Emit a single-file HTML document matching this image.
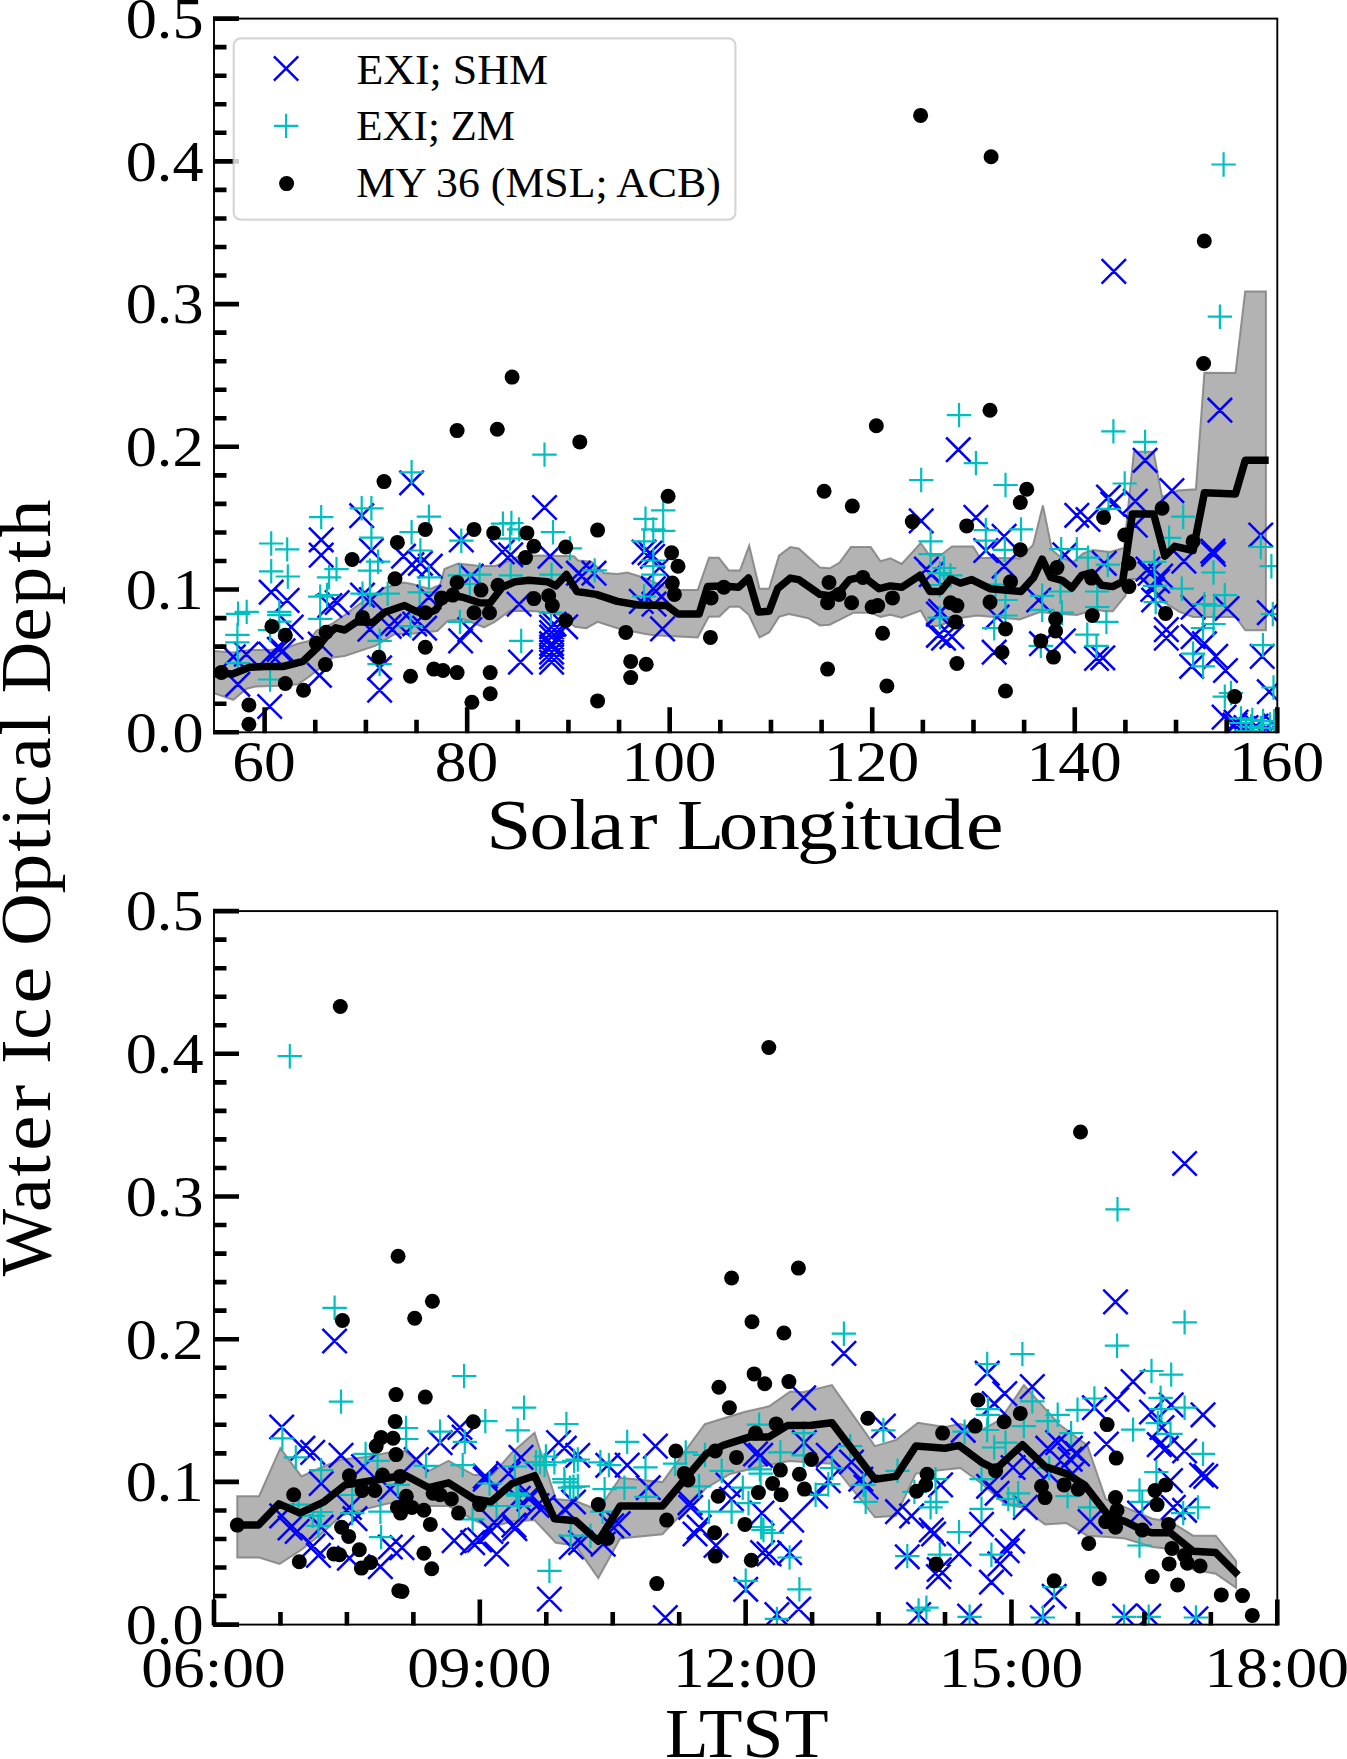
<!DOCTYPE html><html><head><meta charset="utf-8"><style>html,body{margin:0;padding:0;background:#fff}svg{display:block}text{font-family:"Liberation Serif",serif}</style></head><body>
<svg width="1347" height="1759" viewBox="0 0 1347 1759">
<rect width="1347" height="1759" fill="#fff"/>
<defs>
<clipPath id="clip_top"><rect x="214.0" y="18.6" width="1063.3" height="713.6999999999999"/></clipPath>
<clipPath id="clip_bot"><rect x="214.0" y="911.1" width="1063.3" height="713.4999999999999"/></clipPath>
</defs>
<g clip-path="url(#clip_top)"><polygon points="214.0,650.9 232.6,652.4 250.0,650.0 270.0,650.0 288.2,647.2 297.0,644.0 304.6,642.0 309.0,641.0 316.4,630.7 332.8,623.3 344.7,615.0 365.0,600.0 384.7,587.7 404.0,582.5 412.0,584.0 430.0,589.0 440.0,585.0 444.4,569.1 458.0,563.4 480.0,566.0 495.0,566.0 506.4,561.9 519.1,556.3 541.7,555.6 574.1,556.3 578.0,560.5 591.5,561.6 604.0,573.0 617.3,573.9 627.2,572.5 645.0,578.0 660.0,585.0 673.7,590.1 697.7,590.1 709.0,557.7 718.9,557.7 728.7,570.4 740.0,570.4 749.2,545.7 759.5,588.7 769.1,588.7 779.0,555.6 790.3,547.1 798.7,548.5 819.9,567.6 829.8,568.3 839.6,562.6 850.9,547.1 870.7,547.1 880.5,561.2 890.4,558.4 901.7,564.0 920.7,543.0 930.0,556.0 941.0,555.0 951.9,546.4 973.1,546.4 980.1,557.7 1000.0,558.0 1019.6,558.4 1033.0,545.0 1042.9,505.4 1052.0,550.0 1062.0,558.0 1073.2,561.9 1083.1,553.5 1093.0,550.0 1110.0,552.0 1124.0,548.0 1133.9,451.8 1153.6,451.8 1162.1,496.9 1177.6,490.6 1195.9,489.2 1204.4,372.8 1235.5,373.1 1245.2,291.4 1265.9,291.4 1265.9,630.3 1245.3,630.3 1235.4,616.9 1193.1,616.9 1180.0,612.0 1160.0,600.0 1145.1,578.9 1128.2,578.9 1125.4,595.8 1112.7,611.3 1104.3,611.3 1100.6,610.3 1087.3,612.0 1076.9,615.0 1060.0,614.0 1040.0,612.0 1019.6,619.5 977.3,615.5 960.0,618.0 940.0,625.4 929.9,626.8 920.7,610.6 901.7,617.6 890.4,614.8 880.5,616.9 870.7,612.7 853.7,612.7 829.8,624.7 819.9,625.4 808.6,618.3 788.9,614.1 779.0,616.9 769.1,632.5 759.5,637.4 748.8,614.8 739.4,606.8 729.4,606.8 719.4,616.4 708.7,616.8 697.7,637.4 654.0,635.3 645.5,633.9 617.3,628.2 597.6,621.9 586.3,628.2 575.0,626.8 560.0,615.0 536.0,611.3 510.0,610.7 494.3,622.1 484.0,627.3 473.5,623.0 463.2,619.0 447.6,621.0 437.3,631.0 411.5,633.7 395.0,633.9 375.8,645.6 344.7,656.0 332.8,657.4 320.0,668.0 309.0,676.8 297.9,684.3 280.8,685.8 255.6,686.5 246.7,688.7 233.3,699.8 214.0,693.2" fill="#808080" fill-opacity="0.6" stroke="#808080" stroke-opacity="0.85" stroke-width="2"/></g>
<g clip-path="url(#clip_top)">
<path d="M349.5 503.5L373.9 527.9M349.5 527.9L373.9 503.5M309.0 527.6L333.4 552.0M309.0 552.0L333.4 527.6M309.0 542.9L333.4 567.3M309.0 567.3L333.4 542.9M359.2 538.4L383.6 562.8M359.2 562.8L383.6 538.4M259.0 580.0L283.4 604.4M259.0 604.4L283.4 580.0M274.9 588.2L299.3 612.6M274.9 612.6L299.3 588.2M279.0 614.9L303.4 639.3M279.0 639.3L303.4 614.9M221.1 644.6L245.5 669.0M221.1 669.0L245.5 644.6M234.1 642.0L258.5 666.4M234.1 666.4L258.5 642.0M258.6 642.0L283.0 666.4M258.6 666.4L283.0 642.0M267.1 637.2L291.5 661.6M267.1 661.6L291.5 637.2M270.8 638.7L295.2 663.1M270.8 663.1L295.2 638.7M225.6 672.1L250.0 696.5M225.6 696.5L250.0 672.1M257.5 694.3L281.9 718.7M257.5 718.7L281.9 694.3M307.2 663.1L331.6 687.5M307.2 687.5L331.6 663.1M308.0 631.9L332.4 656.3M308.0 656.3L332.4 631.9M317.6 593.3L342.0 617.7M317.6 617.7L342.0 593.3M325.0 590.3L349.4 614.7M325.0 614.7L349.4 590.3M350.3 582.9L374.7 607.3M350.3 607.3L374.7 582.9M359.2 587.3L383.6 611.7M359.2 611.7L383.6 587.3M357.7 617.0L382.1 641.4M357.7 641.4L382.1 617.0M377.0 614.1L401.4 638.5M377.0 638.5L401.4 614.1M367.4 655.6L391.8 680.0M367.4 680.0L391.8 655.6M367.4 677.9L391.8 702.3M367.4 702.3L391.8 677.9M399.4 470.6L423.8 495.0M399.4 495.0L423.8 470.6M532.3 495.3L556.7 519.7M532.3 519.7L556.7 495.3M449.1 527.8L473.5 552.2M449.1 552.2L473.5 527.8M490.0 539.8L514.4 564.2M490.0 564.2L514.4 539.8M498.5 542.6L522.9 567.0M498.5 567.0L522.9 542.6M537.9 544.0L562.3 568.4M537.9 568.4L562.3 544.0M391.3 544.0L415.7 568.4M391.3 568.4L415.7 544.0M408.2 551.1L432.6 575.5M408.2 575.5L432.6 551.1M399.7 552.5L424.1 576.9M399.7 576.9L424.1 552.5M418.1 554.0L442.5 578.4M418.1 578.4L442.5 554.0M416.7 585.0L441.1 609.4M416.7 609.4L441.1 585.0M402.5 611.8L426.9 636.2M402.5 636.2L426.9 611.8M412.4 616.0L436.8 640.4M412.4 640.4L436.8 616.0M385.6 611.8L410.0 636.2M385.6 636.2L410.0 611.8M448.4 628.7L472.8 653.1M448.4 653.1L472.8 628.7M457.6 617.4L482.0 641.8M457.6 641.8L482.0 617.4M459.0 563.8L483.4 588.2M459.0 588.2L483.4 563.8M508.3 649.9L532.7 674.3M508.3 674.3L532.7 649.9M506.9 592.0L531.3 616.4M506.9 616.4L531.3 592.0M539.4 620.3L563.8 644.7M539.4 644.7L563.8 620.3M539.4 631.5L563.8 655.9M539.4 655.9L563.8 631.5M539.4 640.0L563.8 664.4M539.4 664.4L563.8 640.0M539.4 649.9L563.8 674.3M539.4 674.3L563.8 649.9M553.5 614.6L577.9 639.0M553.5 639.0L577.9 614.6M566.2 561.0L590.6 585.4M566.2 585.4L590.6 561.0M631.9 539.8L656.3 564.2M631.9 564.2L656.3 539.8M637.8 540.8L662.2 565.2M637.8 565.2L662.2 540.8M581.8 561.0L606.2 585.4M581.8 585.4L606.2 561.0M569.8 563.8L594.2 588.2M569.8 588.2L594.2 563.8M640.4 544.1L664.8 568.5M640.4 568.5L664.8 544.1M647.4 555.4L671.8 579.8M647.4 579.8L671.8 555.4M641.1 576.5L665.5 600.9M641.1 600.9L665.5 576.5M643.8 578.8L668.2 603.2M643.8 603.2L668.2 578.8M629.1 589.2L653.5 613.6M629.1 613.6L653.5 589.2M641.8 592.0L666.2 616.4M641.8 616.4L666.2 592.0M650.3 616.7L674.7 641.1M650.3 641.1L674.7 616.7M909.0 508.7L933.4 533.1M909.0 533.1L933.4 508.7M914.2 556.8L938.6 581.2M914.2 581.2L938.6 556.8M919.1 562.4L943.5 586.8M919.1 586.8L943.5 562.4M926.2 601.9L950.6 626.3M926.2 626.3L950.6 601.9M926.2 623.1L950.6 647.5M926.2 647.5L950.6 623.1M946.1 437.5L970.5 461.9M946.1 461.9L970.5 437.5M963.7 505.2L988.1 529.6M963.7 529.6L988.1 505.2M991.9 524.2L1016.3 548.6M991.9 548.6L1016.3 524.2M973.6 538.3L998.0 562.7M973.6 562.7L998.0 538.3M1064.6 503.1L1089.0 527.5M1064.6 527.5L1089.0 503.1M1075.8 507.3L1100.2 531.7M1075.8 531.7L1100.2 507.3M1096.3 484.8L1120.7 509.2M1096.3 509.2L1120.7 484.8M1100.5 491.8L1124.9 516.2M1100.5 516.2L1124.9 491.8M1052.6 542.6L1077.0 567.0M1052.6 567.0L1077.0 542.6M991.9 554.0L1016.3 578.4M991.9 578.4L1016.3 554.0M928.4 599.1L952.8 623.5M928.4 623.5L952.8 599.1M931.3 625.9L955.7 650.3M931.3 650.3L955.7 625.9M939.7 624.5L964.1 648.9M939.7 648.9L964.1 624.5M982.0 640.0L1006.4 664.4M982.0 664.4L1006.4 640.0M984.9 604.8L1009.3 629.2M984.9 629.2L1009.3 604.8M1026.5 587.8L1050.9 612.2M1026.5 612.2L1050.9 587.8M1029.3 631.5L1053.7 655.9M1029.3 655.9L1053.7 631.5M1051.2 628.7L1075.6 653.1M1051.2 653.1L1075.6 628.7M1084.3 646.3L1108.7 670.7M1084.3 670.7L1108.7 646.3M1092.1 551.1L1116.5 575.5M1092.1 575.5L1116.5 551.1M1207.7 398.0L1232.1 422.4M1207.7 422.4L1232.1 398.0M1132.9 448.1L1157.3 472.5M1132.9 472.5L1157.3 448.1M1159.7 478.4L1184.1 502.8M1159.7 502.8L1184.1 478.4M1123.1 489.0L1147.5 513.4M1123.1 513.4L1147.5 489.0M1248.6 522.8L1273.0 547.2M1248.6 547.2L1273.0 522.8M1200.6 539.0L1225.0 563.4M1200.6 563.4L1225.0 539.0M1123.1 513.0L1147.5 537.4M1123.1 537.4L1147.5 513.0M1201.3 542.0L1225.7 566.4M1201.3 566.4L1225.7 542.0M1171.7 549.0L1196.1 573.4M1171.7 573.4L1196.1 549.0M1135.8 556.8L1160.2 581.2M1135.8 581.2L1160.2 556.8M1148.4 563.8L1172.8 588.2M1148.4 588.2L1172.8 563.8M1141.4 587.8L1165.8 612.2M1141.4 612.2L1165.8 587.8M1180.9 594.9L1205.3 619.3M1180.9 619.3L1205.3 594.9M1154.1 617.4L1178.5 641.8M1154.1 641.8L1178.5 617.4M1154.1 625.9L1178.5 650.3M1154.1 650.3L1178.5 625.9M1180.9 624.5L1205.3 648.9M1180.9 648.9L1205.3 624.5M1192.2 631.5L1216.6 655.9M1192.2 655.9L1216.6 631.5M1203.5 644.2L1227.9 668.6M1203.5 668.6L1227.9 644.2M1179.5 654.1L1203.9 678.5M1179.5 678.5L1203.9 654.1M1213.3 658.3L1237.7 682.7M1213.3 682.7L1237.7 658.3M1250.0 644.2L1274.4 668.6M1250.0 668.6L1274.4 644.2M1257.1 600.5L1281.5 624.9M1257.1 624.9L1281.5 600.5M1257.1 679.5L1281.5 703.9M1257.1 703.9L1281.5 679.5M1211.9 704.9L1236.3 729.3M1211.9 729.3L1236.3 704.9M1223.8 709.8L1248.2 734.2M1223.8 734.2L1248.2 709.8M1090.6 645.6L1115.0 670.0M1090.6 670.0L1115.0 645.6M1214.8 596.3L1239.2 620.7M1214.8 620.7L1239.2 596.3M1101.6 259.2L1126.0 283.6M1101.6 283.6L1126.0 259.2M539.4 614.8L563.8 639.2M539.4 639.2L563.8 614.8M539.4 624.8L563.8 649.2M539.4 649.2L563.8 624.8M539.4 634.8L563.8 659.2M539.4 659.2L563.8 634.8M539.4 644.8L563.8 669.2M539.4 669.2L563.8 644.8M541.8 611.8L566.2 636.2M541.8 636.2L566.2 611.8M1222.8 712.8L1247.2 737.2M1222.8 737.2L1247.2 712.8M1233.8 715.3L1258.2 739.7M1233.8 739.7L1258.2 715.3M1243.8 713.8L1268.2 738.2M1243.8 738.2L1268.2 713.8M1253.8 716.3L1278.2 740.7M1253.8 740.7L1278.2 716.3M1262.8 713.3L1287.2 737.7M1262.8 737.7L1287.2 713.3M1137.8 561.3L1162.2 585.7M1137.8 585.7L1162.2 561.3M1145.4 568.8L1169.8 593.2M1145.4 593.2L1169.8 568.8M1140.6 577.2L1165.0 601.6M1140.6 601.6L1165.0 577.2" stroke="#0000ff" stroke-width="2.5" fill="none"/>
<path d="M259.0 543.5H283.4M271.2 531.3V555.7M275.0 549.4H299.4M287.2 537.2V561.6M309.0 517.1H333.4M321.2 504.9V529.3M349.5 508.3H373.9M361.7 496.1V520.5M359.2 508.3H383.6M371.4 496.1V520.5M359.2 537.7H383.6M371.4 525.5V549.9M259.0 571.3H283.4M271.2 559.1V583.5M275.6 576.5H300.0M287.8 564.3V588.7M324.3 569.1H348.7M336.5 556.9V581.3M316.9 577.3H341.3M329.1 565.1V589.5M357.7 570.6H382.1M369.9 558.4V582.8M365.9 561.7H390.3M378.1 549.5V573.9M225.9 613.8H250.3M238.1 601.6V626.0M234.5 611.9H258.9M246.7 599.7V624.1M225.2 634.9H249.6M237.4 622.7V647.1M225.2 642.3H249.6M237.4 630.1V654.5M225.6 663.1H250.0M237.8 650.9V675.3M267.1 611.9H291.5M279.3 599.7V624.1M267.1 615.2H291.5M279.3 603.0V627.4M267.1 621.6H291.5M279.3 609.4V633.8M257.9 630.1H282.3M270.1 617.9V642.3M257.9 679.5H282.3M270.1 667.3V691.7M308.0 596.6H332.4M320.2 584.4V608.8M314.8 595.0H339.2M327.0 582.8V607.2M308.0 618.8H332.4M320.2 606.6V631.0M350.3 593.6H374.7M362.5 581.4V605.8M357.7 594.3H382.1M369.9 582.1V606.5M375.5 593.6H399.9M387.7 581.4V605.8M367.4 640.8H391.8M379.6 628.6V653.0M367.4 664.1H391.8M379.6 651.9V676.3M532.3 454.6H556.7M544.5 442.4V466.8M399.4 472.3H423.8M411.6 460.1V484.5M416.7 516.7H441.1M428.9 504.5V528.9M399.4 532.2H423.8M411.6 520.0V544.4M408.2 550.5H432.6M420.4 538.3V562.7M449.1 540.7H473.5M461.3 528.5V552.9M490.7 523.7H515.1M502.9 511.5V535.9M499.2 523.0H523.6M511.4 510.8V535.2M506.9 529.4H531.3M519.1 517.2V541.6M497.8 538.6H522.2M510.0 526.4V550.8M540.8 532.2H565.2M553.0 520.0V544.4M557.7 548.4H582.1M569.9 536.2V560.6M416.7 577.4H441.1M428.9 565.2V589.6M407.5 592.3H431.9M419.7 580.1V604.5M398.3 626.1H422.7M410.5 613.9V638.3M447.7 621.9H472.1M459.9 609.7V634.1M447.7 575.3H472.1M459.9 563.1V587.5M467.4 574.6H491.8M479.6 562.4V586.8M457.6 584.0H482.0M469.8 571.8V596.2M498.5 575.3H522.9M510.7 563.1V587.5M509.0 640.9H533.4M521.2 628.7V653.1M539.4 574.6H563.8M551.6 562.4V586.8M538.7 612.7H563.1M550.9 600.5V624.9M633.3 518.8H657.7M645.5 506.6V531.0M651.0 510.3H675.4M663.2 498.1V522.5M641.1 529.4H665.5M653.3 517.2V541.6M651.0 530.8H675.4M663.2 518.6V543.0M631.9 541.4H656.3M644.1 529.2V553.6M582.5 570.4H606.9M594.7 558.2V582.6M641.1 560.5H665.5M653.3 548.3V572.7M641.1 566.2H665.5M653.3 554.0V578.4M641.1 574.6H665.5M653.3 562.4V586.8M631.9 596.5H656.3M644.1 584.3V608.7M909.0 480.0H933.4M921.2 467.8V492.2M918.4 541.4H942.8M930.6 529.2V553.6M918.4 554.1H942.8M930.6 541.9V566.3M927.6 573.2H952.0M939.8 561.0V585.4M927.6 585.0H952.0M939.8 572.8V597.2M927.6 617.6H952.0M939.8 605.4V629.8M946.8 415.1H971.2M959.0 402.9V427.3M963.7 463.1H988.1M975.9 450.9V475.3M993.3 485.0H1017.7M1005.5 472.8V497.2M1101.2 431.4H1125.6M1113.4 419.2V443.6M973.6 530.1H998.0M985.8 517.9V542.3M973.6 540.7H998.0M985.8 528.5V552.9M1008.8 529.4H1033.2M1021.0 517.2V541.6M992.6 549.8H1017.0M1004.8 537.6V562.0M1049.0 549.1H1073.4M1061.2 536.9V561.3M1064.6 549.1H1089.0M1076.8 536.9V561.3M1096.3 508.9H1120.7M1108.5 496.7V521.1M938.3 575.3H962.7M950.5 563.1V587.5M931.8 568.0H956.2M944.0 555.8V580.2M983.4 584.5H1007.8M995.6 572.3V596.7M993.3 600.0H1017.7M1005.5 587.8V612.2M993.3 615.5H1017.7M1005.5 603.3V627.7M982.0 628.2H1006.4M994.2 616.0V640.4M1030.0 595.8H1054.4M1042.2 583.6V608.0M1030.0 609.9H1054.4M1042.2 597.7V622.1M1075.8 557.7H1100.2M1088.0 545.5V569.9M1048.3 591.5H1072.7M1060.5 579.3V603.7M1049.8 612.7H1074.2M1062.0 600.5V624.9M1028.6 645.8H1053.0M1040.8 633.6V658.0M1085.0 591.5H1109.4M1097.2 579.3V603.7M1085.0 607.0H1109.4M1097.2 594.8V619.2M1094.2 621.9H1118.6M1106.4 609.7V634.1M1075.1 634.6H1099.5M1087.3 622.4V646.8M1084.3 645.8H1108.7M1096.5 633.6V658.0M1095.6 564.7H1120.0M1107.8 552.5V576.9M1132.9 441.9H1157.3M1145.1 429.7V454.1M1112.5 483.5H1136.9M1124.7 471.3V495.7M1171.0 516.7H1195.4M1183.2 504.5V528.9M1156.9 537.8H1181.3M1169.1 525.6V550.0M1248.6 547.0H1273.0M1260.8 534.8V559.2M1142.1 561.9H1166.5M1154.3 549.7V574.1M1142.8 585.9H1167.2M1155.0 573.7V598.1M1143.5 602.1H1167.9M1155.7 589.9V614.3M1169.6 588.7H1194.0M1181.8 576.5V600.9M1201.3 572.5H1225.7M1213.5 560.3V584.7M1212.6 595.1H1237.0M1224.8 582.9V607.3M1192.2 604.2H1216.6M1204.4 592.0V616.4M1202.0 605.6H1226.4M1214.2 593.4V617.8M1190.8 628.2H1215.2M1203.0 616.0V640.4M1201.3 624.0H1225.7M1213.5 611.8V636.2M1180.9 653.6H1205.3M1193.1 641.4V665.8M1190.8 666.3H1215.2M1203.0 654.1V678.5M1212.6 696.6H1237.0M1224.8 684.4V708.8M1218.8 693.0H1243.2M1231.0 680.8V705.2M1259.2 566.2H1283.6M1271.4 554.0V578.4M1260.6 614.1H1285.0M1272.8 601.9V626.3M1250.7 645.1H1275.1M1262.9 632.9V657.3M1261.3 687.5H1285.7M1273.5 675.3V699.7M1228.8 718.5H1253.2M1241.0 706.3V730.7M1240.1 719.9H1264.5M1252.3 707.7V732.1M1250.8 721.0H1275.2M1263.0 708.8V733.2M1262.0 721.3H1286.4M1274.2 709.1V733.5M1211.4 164.5H1235.8M1223.6 152.3V176.7M1207.7 316.7H1232.1M1219.9 304.5V328.9M1228.8 723.0H1253.2M1241.0 710.8V735.2M1238.8 726.5H1263.2M1251.0 714.3V738.7M1248.8 728.0H1273.2M1261.0 715.8V740.2M1257.8 724.5H1282.2M1270.0 712.3V736.7M1233.8 731.0H1258.2M1246.0 718.8V743.2" stroke="#00bfbf" stroke-width="2.2" fill="none"/>
<circle cx="384.0" cy="481.6" r="7.5" fill="#000"/>
<circle cx="352.1" cy="559.5" r="7.5" fill="#000"/>
<circle cx="397.4" cy="542.4" r="7.5" fill="#000"/>
<circle cx="221.4" cy="672.4" r="7.5" fill="#000"/>
<circle cx="248.9" cy="705.0" r="7.5" fill="#000"/>
<circle cx="248.9" cy="724.3" r="7.5" fill="#000"/>
<circle cx="271.9" cy="626.4" r="7.5" fill="#000"/>
<circle cx="285.3" cy="635.3" r="7.5" fill="#000"/>
<circle cx="285.3" cy="683.5" r="7.5" fill="#000"/>
<circle cx="303.5" cy="690.2" r="7.5" fill="#000"/>
<circle cx="316.4" cy="643.3" r="7.5" fill="#000"/>
<circle cx="326.1" cy="632.2" r="7.5" fill="#000"/>
<circle cx="325.4" cy="664.6" r="7.5" fill="#000"/>
<circle cx="395.0" cy="578.8" r="7.5" fill="#000"/>
<circle cx="362.5" cy="617.4" r="7.5" fill="#000"/>
<circle cx="378.8" cy="657.2" r="7.5" fill="#000"/>
<circle cx="512.1" cy="377.1" r="7.5" fill="#000"/>
<circle cx="457.1" cy="430.6" r="7.5" fill="#000"/>
<circle cx="497.3" cy="429.2" r="7.5" fill="#000"/>
<circle cx="579.8" cy="441.9" r="7.5" fill="#000"/>
<circle cx="425.3" cy="529.4" r="7.5" fill="#000"/>
<circle cx="474.0" cy="529.4" r="7.5" fill="#000"/>
<circle cx="493.7" cy="532.9" r="7.5" fill="#000"/>
<circle cx="526.9" cy="532.9" r="7.5" fill="#000"/>
<circle cx="533.9" cy="546.3" r="7.5" fill="#000"/>
<circle cx="565.7" cy="547.0" r="7.5" fill="#000"/>
<circle cx="525.5" cy="557.6" r="7.5" fill="#000"/>
<circle cx="425.3" cy="647.3" r="7.5" fill="#000"/>
<circle cx="410.5" cy="676.2" r="7.5" fill="#000"/>
<circle cx="433.8" cy="669.1" r="7.5" fill="#000"/>
<circle cx="443.0" cy="670.5" r="7.5" fill="#000"/>
<circle cx="457.1" cy="672.6" r="7.5" fill="#000"/>
<circle cx="490.2" cy="672.6" r="7.5" fill="#000"/>
<circle cx="490.2" cy="693.8" r="7.5" fill="#000"/>
<circle cx="471.9" cy="702.3" r="7.5" fill="#000"/>
<circle cx="425.3" cy="612.7" r="7.5" fill="#000"/>
<circle cx="441.5" cy="597.9" r="7.5" fill="#000"/>
<circle cx="452.8" cy="595.1" r="7.5" fill="#000"/>
<circle cx="457.1" cy="582.4" r="7.5" fill="#000"/>
<circle cx="474.0" cy="612.7" r="7.5" fill="#000"/>
<circle cx="481.0" cy="590.1" r="7.5" fill="#000"/>
<circle cx="489.5" cy="612.7" r="7.5" fill="#000"/>
<circle cx="498.0" cy="585.2" r="7.5" fill="#000"/>
<circle cx="533.9" cy="598.6" r="7.5" fill="#000"/>
<circle cx="548.7" cy="595.8" r="7.5" fill="#000"/>
<circle cx="552.3" cy="605.6" r="7.5" fill="#000"/>
<circle cx="565.7" cy="620.5" r="7.5" fill="#000"/>
<circle cx="597.6" cy="530.1" r="7.5" fill="#000"/>
<circle cx="668.1" cy="496.2" r="7.5" fill="#000"/>
<circle cx="671.6" cy="552.7" r="7.5" fill="#000"/>
<circle cx="678.0" cy="566.2" r="7.5" fill="#000"/>
<circle cx="672.3" cy="583.1" r="7.5" fill="#000"/>
<circle cx="674.4" cy="594.4" r="7.5" fill="#000"/>
<circle cx="711.1" cy="597.9" r="7.5" fill="#000"/>
<circle cx="723.8" cy="587.3" r="7.5" fill="#000"/>
<circle cx="625.8" cy="632.4" r="7.5" fill="#000"/>
<circle cx="710.4" cy="637.4" r="7.5" fill="#000"/>
<circle cx="630.7" cy="661.4" r="7.5" fill="#000"/>
<circle cx="646.2" cy="664.2" r="7.5" fill="#000"/>
<circle cx="630.7" cy="677.6" r="7.5" fill="#000"/>
<circle cx="597.6" cy="700.9" r="7.5" fill="#000"/>
<circle cx="876.3" cy="425.7" r="7.5" fill="#000"/>
<circle cx="824.1" cy="491.3" r="7.5" fill="#000"/>
<circle cx="852.3" cy="506.1" r="7.5" fill="#000"/>
<circle cx="912.3" cy="521.6" r="7.5" fill="#000"/>
<circle cx="829.0" cy="582.4" r="7.5" fill="#000"/>
<circle cx="827.6" cy="602.8" r="7.5" fill="#000"/>
<circle cx="838.9" cy="594.4" r="7.5" fill="#000"/>
<circle cx="851.6" cy="602.8" r="7.5" fill="#000"/>
<circle cx="862.9" cy="577.4" r="7.5" fill="#000"/>
<circle cx="872.1" cy="607.0" r="7.5" fill="#000"/>
<circle cx="877.7" cy="605.6" r="7.5" fill="#000"/>
<circle cx="892.5" cy="597.9" r="7.5" fill="#000"/>
<circle cx="882.6" cy="633.2" r="7.5" fill="#000"/>
<circle cx="827.6" cy="669.1" r="7.5" fill="#000"/>
<circle cx="886.9" cy="686.0" r="7.5" fill="#000"/>
<circle cx="990.0" cy="410.2" r="7.5" fill="#000"/>
<circle cx="1026.7" cy="489.2" r="7.5" fill="#000"/>
<circle cx="1020.3" cy="502.6" r="7.5" fill="#000"/>
<circle cx="966.7" cy="525.9" r="7.5" fill="#000"/>
<circle cx="1020.3" cy="549.8" r="7.5" fill="#000"/>
<circle cx="1103.6" cy="517.4" r="7.5" fill="#000"/>
<circle cx="1057.0" cy="567.6" r="7.5" fill="#000"/>
<circle cx="1010.5" cy="581.7" r="7.5" fill="#000"/>
<circle cx="950.5" cy="602.8" r="7.5" fill="#000"/>
<circle cx="956.9" cy="605.6" r="7.5" fill="#000"/>
<circle cx="955.5" cy="621.9" r="7.5" fill="#000"/>
<circle cx="990.0" cy="602.1" r="7.5" fill="#000"/>
<circle cx="1005.5" cy="628.9" r="7.5" fill="#000"/>
<circle cx="1002.0" cy="652.2" r="7.5" fill="#000"/>
<circle cx="956.9" cy="663.5" r="7.5" fill="#000"/>
<circle cx="1005.5" cy="691.0" r="7.5" fill="#000"/>
<circle cx="1055.6" cy="619.0" r="7.5" fill="#000"/>
<circle cx="1055.6" cy="631.0" r="7.5" fill="#000"/>
<circle cx="1040.8" cy="640.9" r="7.5" fill="#000"/>
<circle cx="1053.5" cy="657.1" r="7.5" fill="#000"/>
<circle cx="1091.6" cy="578.1" r="7.5" fill="#000"/>
<circle cx="1092.3" cy="615.5" r="7.5" fill="#000"/>
<circle cx="1124.7" cy="535.0" r="7.5" fill="#000"/>
<circle cx="1162.1" cy="508.2" r="7.5" fill="#000"/>
<circle cx="1193.1" cy="541.4" r="7.5" fill="#000"/>
<circle cx="1128.9" cy="563.3" r="7.5" fill="#000"/>
<circle cx="1128.9" cy="586.6" r="7.5" fill="#000"/>
<circle cx="1165.6" cy="613.4" r="7.5" fill="#000"/>
<circle cx="1234.7" cy="696.6" r="7.5" fill="#000"/>
<circle cx="1204.3" cy="241.0" r="7.5" fill="#000"/>
<circle cx="1203.6" cy="363.5" r="7.5" fill="#000"/>
<circle cx="920.6" cy="115.4" r="7.5" fill="#000"/>
<circle cx="991.1" cy="156.8" r="7.5" fill="#000"/>
</g>
<g clip-path="url(#clip_top)"><polyline points="214.0,672.4 232.6,673.9 249.6,667.2 266.0,666.5 283.0,666.5 303.1,661.3 318.0,647.0 328.3,633.7 335.8,627.8 344.7,630.0 356.5,621.8 372.9,622.6 384.7,612.2 404.5,605.5 416.2,611.3 426.0,614.1 435.9,609.9 441.5,600.0 454.2,595.8 462.7,597.2 479.6,602.8 490.0,603.0 502.2,587.3 514.9,581.7 529.0,580.3 547.3,581.7 555.8,585.9 566.4,574.6 576.9,591.5 596.2,594.4 617.3,601.4 638.5,605.0 666.7,605.6 678.0,614.1 699.1,614.1 707.6,586.6 723.1,585.9 738.6,587.3 748.5,578.1 758.4,612.0 769.1,611.3 777.6,588.7 790.3,578.1 798.7,579.6 819.9,594.4 829.8,595.8 839.6,591.5 849.5,579.6 863.6,576.7 879.1,588.7 890.4,585.9 901.7,587.3 920.0,575.3 929.9,591.5 940.6,591.5 950.5,578.9 960.4,583.1 971.7,579.6 990.0,588.7 1021.0,591.5 1033.7,577.4 1042.2,559.1 1050.7,577.4 1062.0,580.3 1071.8,588.0 1081.7,575.3 1091.6,572.5 1101.4,585.2 1112.7,586.6 1122.6,581.7 1132.4,513.9 1153.6,513.9 1164.9,556.2 1174.8,546.3 1193.1,550.5 1204.4,492.7 1235.4,494.1 1245.3,460.3 1268.7,460.3" fill="none" stroke="#000" stroke-width="7.5" stroke-linejoin="round" stroke-linecap="butt"/></g>
<rect x="214.0" y="18.6" width="1063.3" height="713.7" fill="none" stroke="#000" stroke-width="1.9"/>
<g clip-path="url(#clip_bot)"><polygon points="237.3,1496.2 259.1,1496.2 280.3,1448.2 301.4,1476.4 320.0,1468.0 341.0,1459.5 366.0,1457.0 388.9,1452.4 404.9,1451.0 428.9,1470.8 448.6,1460.9 474.0,1475.0 492.3,1475.0 512.1,1452.4 534.6,1432.7 555.8,1499.0 575.5,1501.1 598.3,1510.0 620.1,1477.8 662.4,1482.1 704.8,1424.2 744.3,1412.0 769.1,1406.3 790.3,1391.5 803.0,1392.2 831.9,1385.1 874.9,1446.1 896.0,1440.0 917.9,1422.8 945.0,1427.0 960.0,1424.0 981.5,1430.0 1000.0,1420.0 1023.9,1385.1 1059.1,1424.2 1087.3,1445.4 1105.7,1499.0 1125.4,1507.4 1152.2,1518.7 1170.5,1521.6 1193.1,1535.7 1215.7,1535.7 1236.1,1561.0 1236.1,1587.8 1215.7,1573.7 1193.1,1569.5 1170.5,1549.0 1152.2,1547.0 1125.0,1538.5 1108.0,1537.0 1087.3,1535.7 1066.2,1523.0 1045.0,1524.4 1022.4,1507.4 1005.5,1504.6 981.5,1483.5 960.4,1468.0 935.0,1470.8 915.8,1473.6 896.0,1515.9 874.9,1517.3 831.9,1463.7 788.9,1460.9 755.0,1468.0 730.0,1474.0 706.2,1488.0 687.8,1507.4 662.4,1534.2 620.1,1538.5 598.3,1578.0 575.5,1545.5 555.8,1542.7 534.6,1520.1 512.1,1521.6 489.5,1527.2 474.0,1520.0 448.6,1506.0 428.9,1506.0 409.1,1503.2 388.9,1503.2 366.3,1508.9 341.0,1515.9 320.0,1535.0 301.4,1549.8 279.6,1563.9 259.1,1557.5 237.3,1557.5" fill="#808080" fill-opacity="0.6" stroke="#808080" stroke-opacity="0.85" stroke-width="2"/></g>
<g clip-path="url(#clip_bot)">
<path d="M1172.4 1151.3L1196.8 1175.7M1172.4 1175.7L1196.8 1151.3M322.4 1328.8L346.8 1353.2M322.4 1353.2L346.8 1328.8M269.5 1414.8L293.9 1439.2M269.5 1439.2L293.9 1414.8M290.7 1436.0L315.1 1460.4M290.7 1460.4L315.1 1436.0M300.5 1440.2L324.9 1464.6M300.5 1464.6L324.9 1440.2M328.8 1443.1L353.2 1467.5M328.8 1467.5L353.2 1443.1M309.0 1471.3L333.4 1495.7M309.0 1495.7L333.4 1471.3M269.5 1503.7L293.9 1528.1M269.5 1528.1L293.9 1503.7M285.0 1519.2L309.4 1543.6M285.0 1543.6L309.4 1519.2M277.8 1515.8L302.2 1540.2M277.8 1540.2L302.2 1515.8M306.2 1543.2L330.6 1567.6M306.2 1567.6L330.6 1543.2M309.0 1515.0L333.4 1539.4M309.0 1539.4L333.4 1515.0M337.2 1495.2L361.6 1519.6M337.2 1519.6L361.6 1495.2M342.8 1506.5L367.2 1530.9M342.8 1530.9L367.2 1506.5M351.3 1454.3L375.7 1478.7M351.3 1478.7L375.7 1454.3M368.2 1554.5L392.6 1578.9M368.2 1578.9L392.6 1554.5M378.1 1534.8L402.5 1559.2M378.1 1559.2L402.5 1534.8M378.1 1476.9L402.5 1501.3M378.1 1501.3L402.5 1476.9M337.2 1546.0L361.6 1570.4M337.2 1570.4L361.6 1546.0M447.7 1415.3L472.1 1439.7M447.7 1439.7L472.1 1415.3M427.9 1430.4L452.3 1454.8M427.9 1454.8L452.3 1430.4M451.9 1424.8L476.3 1449.2M451.9 1449.2L476.3 1424.8M546.4 1430.4L570.8 1454.8M546.4 1454.8L570.8 1430.4M552.1 1436.0L576.5 1460.4M552.1 1460.4L576.5 1436.0M473.1 1467.0L497.5 1491.4M473.1 1491.4L497.5 1467.0M389.8 1535.4L414.2 1559.8M389.8 1559.8L414.2 1535.4M442.0 1528.4L466.4 1552.8M442.0 1552.8L466.4 1528.4M460.4 1530.5L484.8 1554.9M460.4 1554.9L484.8 1530.5M478.7 1519.2L503.1 1543.6M478.7 1543.6L503.1 1519.2M484.4 1541.8L508.8 1566.2M484.4 1566.2L508.8 1541.8M502.7 1516.4L527.1 1540.8M502.7 1540.8L527.1 1516.4M537.2 1586.9L561.6 1611.3M537.2 1611.3L561.6 1586.9M559.1 1534.8L583.5 1559.2M559.1 1559.2L583.5 1534.8M516.8 1486.8L541.2 1511.2M516.8 1511.2L541.2 1486.8M530.9 1495.2L555.3 1519.6M530.9 1519.6L555.3 1495.2M404.0 1447.3L428.4 1471.7M404.0 1471.7L428.4 1447.3M467.4 1527.7L491.8 1552.1M467.4 1552.1L491.8 1527.7M643.2 1433.9L667.6 1458.3M643.2 1458.3L667.6 1433.9M615.0 1452.9L639.4 1477.3M615.0 1477.3L639.4 1452.9M565.6 1443.1L590.0 1467.5M565.6 1467.5L590.0 1443.1M636.1 1475.5L660.5 1499.9M636.1 1499.9L660.5 1475.5M591.0 1531.9L615.4 1556.3M591.0 1556.3L615.4 1531.9M599.5 1513.6L623.9 1538.0M599.5 1538.0L623.9 1513.6M568.4 1530.5L592.8 1554.9M568.4 1554.9L592.8 1530.5M678.5 1495.2L702.9 1519.6M678.5 1519.6L702.9 1495.2M686.9 1515.0L711.3 1539.4M686.9 1539.4L711.3 1515.0M703.8 1533.3L728.2 1557.7M703.8 1557.7L728.2 1533.3M719.4 1486.8L743.8 1511.2M719.4 1511.2L743.8 1486.8M743.3 1441.7L767.7 1466.1M743.3 1466.1L767.7 1441.7M733.5 1577.1L757.9 1601.5M733.5 1601.5L757.9 1577.1M653.1 1605.3L677.5 1629.7M653.1 1629.7L677.5 1605.3M750.4 1540.4L774.8 1564.8M750.4 1564.8L774.8 1540.4M831.7 1341.2L856.1 1365.6M831.7 1365.6L856.1 1341.2M791.5 1385.6L815.9 1410.0M791.5 1410.0L815.9 1385.6M871.2 1413.8L895.6 1438.2M871.2 1438.2L895.6 1413.8M792.2 1430.4L816.6 1454.8M792.2 1454.8L816.6 1430.4M748.4 1443.1L772.8 1467.5M748.4 1467.5L772.8 1443.1M816.1 1443.1L840.5 1467.5M816.1 1467.5L840.5 1443.1M816.1 1468.4L840.5 1492.8M816.1 1492.8L840.5 1468.4M803.4 1484.0L827.8 1508.4M803.4 1508.4L827.8 1484.0M848.6 1467.0L873.0 1491.4M848.6 1491.4L873.0 1467.0M779.5 1507.9L803.9 1532.3M779.5 1532.3L803.9 1507.9M749.8 1500.9L774.2 1525.3M749.8 1525.3L774.2 1500.9M756.9 1541.8L781.3 1566.2M756.9 1566.2L781.3 1541.8M777.4 1540.4L801.8 1564.8M777.4 1564.8L801.8 1540.4M786.5 1596.8L810.9 1621.2M786.5 1621.2L810.9 1596.8M764.7 1602.4L789.1 1626.8M764.7 1626.8L789.1 1602.4M885.3 1499.5L909.7 1523.9M885.3 1523.9L909.7 1499.5M899.4 1503.7L923.8 1528.1M899.4 1528.1L923.8 1503.7M919.1 1517.8L943.5 1542.2M919.1 1542.2L943.5 1517.8M895.1 1544.6L919.5 1569.0M895.1 1569.0L919.5 1544.6M926.2 1564.4L950.6 1588.8M926.2 1588.8L950.6 1564.4M906.4 1602.4L930.8 1626.8M906.4 1626.8L930.8 1602.4M1103.3 1289.7L1127.7 1314.1M1103.3 1314.1L1127.7 1289.7M975.0 1361.0L999.4 1385.4M975.0 1385.4L999.4 1361.0M992.6 1381.4L1017.0 1405.8M992.6 1405.8L1017.0 1381.4M1020.1 1374.4L1044.5 1398.8M1020.1 1398.8L1044.5 1374.4M982.0 1391.3L1006.4 1415.7M982.0 1415.7L1006.4 1391.3M1082.2 1395.5L1106.6 1419.9M1082.2 1419.9L1106.6 1395.5M1104.8 1387.1L1129.2 1411.5M1104.8 1411.5L1129.2 1387.1M951.0 1418.1L975.4 1442.5M951.0 1442.5L975.4 1418.1M1035.6 1436.0L1060.0 1460.4M1035.6 1460.4L1060.0 1436.0M1045.5 1430.4L1069.9 1454.8M1045.5 1454.8L1069.9 1430.4M1058.2 1436.0L1082.6 1460.4M1058.2 1460.4L1082.6 1436.0M1065.3 1441.7L1089.7 1466.1M1065.3 1466.1L1089.7 1441.7M1094.2 1431.8L1118.6 1456.2M1094.2 1456.2L1118.6 1431.8M928.4 1472.7L952.8 1497.1M928.4 1497.1L952.8 1472.7M976.4 1474.1L1000.8 1498.5M976.4 1498.5L1000.8 1474.1M984.9 1481.1L1009.3 1505.5M984.9 1505.5L1009.3 1481.1M1013.1 1495.2L1037.5 1519.6M1013.1 1519.6L1037.5 1495.2M969.3 1512.2L993.7 1536.6M969.3 1536.6L993.7 1512.2M946.8 1541.8L971.2 1566.2M946.8 1566.2L971.2 1541.8M1000.4 1529.1L1024.8 1553.5M1000.4 1553.5L1024.8 1529.1M987.7 1551.7L1012.1 1576.1M987.7 1576.1L1012.1 1551.7M979.2 1570.0L1003.6 1594.4M979.2 1594.4L1003.6 1570.0M927.0 1557.3L951.4 1581.7M927.0 1581.7L951.4 1557.3M1077.9 1509.4L1102.3 1533.8M1077.9 1533.8L1102.3 1509.4M1042.0 1584.1L1066.4 1608.5M1042.0 1608.5L1066.4 1584.1M1030.0 1605.3L1054.4 1629.7M1030.0 1629.7L1054.4 1605.3M957.4 1603.8L981.8 1628.2M957.4 1628.2L981.8 1603.8M1120.9 1369.4L1145.3 1393.8M1120.9 1393.8L1145.3 1369.4M1159.0 1392.7L1183.4 1417.1M1159.0 1417.1L1183.4 1392.7M1139.3 1399.8L1163.7 1424.2M1139.3 1424.2L1163.7 1399.8M1190.8 1402.6L1215.2 1427.0M1190.8 1427.0L1215.2 1402.6M1149.8 1415.3L1174.2 1439.7M1149.8 1439.7L1174.2 1415.3M1147.0 1432.5L1171.4 1456.9M1147.0 1456.9L1171.4 1432.5M1154.1 1436.0L1178.5 1460.4M1154.1 1460.4L1178.5 1436.0M1172.4 1438.8L1196.8 1463.2M1172.4 1463.2L1196.8 1438.8M1189.4 1462.8L1213.8 1487.2M1189.4 1487.2L1213.8 1462.8M1193.6 1464.2L1218.0 1488.6M1193.6 1488.6L1218.0 1464.2M1158.3 1468.4L1182.7 1492.8M1158.3 1492.8L1182.7 1468.4M1161.1 1495.2L1185.5 1519.6M1161.1 1519.6L1185.5 1495.2M1172.4 1498.1L1196.8 1522.5M1172.4 1522.5L1196.8 1498.1M1127.3 1500.9L1151.7 1525.3M1127.3 1525.3L1151.7 1500.9M1112.5 1603.8L1136.9 1628.2M1112.5 1628.2L1136.9 1603.8M1136.5 1603.8L1160.9 1628.2M1136.5 1628.2L1160.9 1603.8M1183.7 1606.7L1208.1 1631.1M1183.7 1631.1L1208.1 1606.7M508.8 1445.2L533.2 1469.6M508.8 1469.6L533.2 1445.2M496.3 1461.3L520.7 1485.7M496.3 1485.7L520.7 1461.3M473.1 1463.9L497.5 1488.3M473.1 1488.3L497.5 1463.9M506.1 1486.2L530.5 1510.6M506.1 1510.6L530.5 1486.2M517.7 1483.5L542.1 1507.9M517.7 1507.9L542.1 1483.5M524.8 1493.3L549.2 1517.7M524.8 1517.7L549.2 1493.3M552.4 1496.9L576.8 1521.3M552.4 1521.3L576.8 1496.9M561.3 1489.8L585.7 1514.2M561.3 1514.2L585.7 1489.8M501.7 1512.9L526.1 1537.3M501.7 1537.3L526.1 1512.9M482.1 1510.2L506.5 1534.6M482.1 1534.6L506.5 1510.2M606.0 1511.3L630.4 1535.7M606.0 1535.7L630.4 1511.3M677.8 1490.6L702.2 1515.0M677.8 1515.0L702.2 1490.6M682.8 1521.8L707.2 1546.2M682.8 1546.2L707.2 1521.8M595.6 1453.1L620.0 1477.5M595.6 1477.5L620.0 1453.1M715.8 1472.8L740.2 1497.2M715.8 1497.2L740.2 1472.8M1000.9 1455.3L1025.3 1479.7M1000.9 1479.7L1025.3 1455.3M1018.8 1452.9L1043.2 1477.3M1018.8 1477.3L1043.2 1452.9M1057.9 1447.0L1082.3 1471.4M1057.9 1471.4L1082.3 1447.0M1036.6 1461.2L1061.0 1485.6M1036.6 1485.6L1061.0 1461.2M1060.3 1461.2L1084.7 1485.6M1060.3 1485.6L1084.7 1461.2M995.0 1538.4L1019.4 1562.8M995.0 1562.8L1019.4 1538.4M921.4 1521.8L945.8 1546.2M921.4 1546.2L945.8 1521.8M839.3 1449.8L863.7 1474.2M839.3 1474.2L863.7 1449.8M853.8 1474.8L878.2 1499.2M853.8 1499.2L878.2 1474.8M300.8 1533.8L325.2 1558.2M300.8 1558.2L325.2 1533.8" stroke="#0000ff" stroke-width="2.5" fill="none"/>
<path d="M277.6 1056.2H302.0M289.8 1044.0V1068.4M1105.3 1209.3H1129.7M1117.5 1197.1V1221.5M322.4 1307.8H346.8M334.6 1295.6V1320.0M328.8 1401.6H353.2M341.0 1389.4V1413.8M270.2 1438.3H294.6M282.4 1426.1V1450.5M283.6 1457.4H308.0M295.8 1445.2V1469.6M309.0 1470.1H333.4M321.2 1457.9V1482.3M353.4 1453.9H377.8M365.6 1441.7V1466.1M365.4 1460.9H389.8M377.6 1448.7V1473.1M340.0 1513.1H364.4M352.2 1500.9V1525.3M340.0 1495.0H364.4M352.2 1482.8V1507.2M368.2 1511.7H392.6M380.4 1499.5V1523.9M368.9 1537.1H393.3M381.1 1524.9V1549.3M286.4 1504.6H310.8M298.6 1492.4V1516.8M300.5 1515.9H324.9M312.7 1503.7V1528.1M306.2 1525.8H330.6M318.4 1513.6V1538.0M308.8 1512.0H333.2M321.0 1499.8V1524.2M451.9 1376.0H476.3M464.1 1363.8V1388.2M511.9 1407.7H536.3M524.1 1395.5V1419.9M473.1 1421.1H497.5M485.3 1408.9V1433.3M505.5 1430.3H529.9M517.7 1418.1V1442.5M554.2 1424.0H578.6M566.4 1411.8V1436.2M427.9 1431.7H452.3M440.1 1419.5V1443.9M393.8 1428.0H418.2M406.0 1415.8V1440.2M394.1 1439.0H418.5M406.3 1426.8V1451.2M452.6 1441.9H477.0M464.8 1429.7V1454.1M413.8 1465.8H438.2M426.0 1453.6V1478.0M450.5 1465.1H474.9M462.7 1452.9V1477.3M477.3 1483.5H501.7M489.5 1471.3V1495.7M460.4 1519.4H484.8M472.6 1507.2V1531.6M484.4 1506.0H508.8M496.6 1493.8V1518.2M506.9 1506.0H531.3M519.1 1493.8V1518.2M502.7 1466.5H527.1M514.9 1454.3V1478.7M504.1 1493.3H528.5M516.3 1481.1V1505.5M523.8 1462.3H548.2M536.0 1450.1V1474.5M532.3 1465.1H556.7M544.5 1452.9V1477.3M542.2 1462.3H566.6M554.4 1450.1V1474.5M552.1 1479.2H576.5M564.3 1467.0V1491.4M557.7 1487.7H582.1M569.9 1475.5V1499.9M561.9 1460.9H586.3M574.1 1448.7V1473.1M558.4 1535.7H582.8M570.6 1523.5V1547.9M537.2 1570.9H561.6M549.4 1558.7V1583.1M385.6 1484.9H410.0M397.8 1472.7V1497.1M746.9 1424.6H771.3M759.1 1412.4V1436.8M615.0 1441.9H639.4M627.2 1429.7V1454.1M588.2 1462.3H612.6M600.4 1450.1V1474.5M596.7 1465.1H621.1M608.9 1452.9V1477.3M633.3 1467.3H657.7M645.5 1455.1V1479.5M612.2 1487.7H636.6M624.4 1475.5V1499.9M592.4 1489.1H616.8M604.6 1476.9V1501.3M634.0 1496.9H658.4M646.2 1484.7V1509.1M565.6 1486.3H590.0M577.8 1474.1V1498.5M565.6 1459.5H590.0M577.8 1447.3V1471.7M590.3 1511.7H614.7M602.5 1499.5V1523.9M578.3 1535.7H602.7M590.5 1523.5V1547.9M662.9 1463.7H687.3M675.1 1451.5V1475.9M673.5 1452.4H697.9M685.7 1440.2V1464.6M686.9 1486.3H711.3M699.1 1474.1V1498.5M709.5 1470.8H733.9M721.7 1458.6V1483.0M730.6 1487.7H755.0M742.8 1475.5V1499.9M736.3 1503.2H760.7M748.5 1491.0V1515.4M696.8 1511.7H721.2M709.0 1499.5V1523.9M719.4 1511.7H743.8M731.6 1499.5V1523.9M747.6 1469.4H772.0M759.8 1457.2V1481.6M749.0 1527.2H773.4M761.2 1515.0V1539.4M733.5 1580.8H757.9M745.7 1568.6V1593.0M692.8 1455.0H717.2M705.0 1442.8V1467.2M831.7 1333.7H856.1M843.9 1321.5V1345.9M791.5 1433.1H815.9M803.7 1420.9V1445.3M871.2 1430.3H895.6M883.4 1418.1V1442.5M768.2 1452.4H792.6M780.4 1440.2V1464.6M791.5 1455.3H815.9M803.7 1443.1V1467.5M838.0 1446.1H862.4M850.2 1433.9V1458.3M819.7 1468.0H844.1M831.9 1455.8V1480.2M816.1 1484.2H840.5M828.3 1472.0V1496.4M803.4 1494.8H827.8M815.6 1482.6V1507.0M748.4 1473.6H772.8M760.6 1461.4V1485.8M853.5 1501.8H877.9M865.7 1489.6V1514.0M851.4 1484.9H875.8M863.6 1472.7V1497.1M885.3 1470.8H909.7M897.5 1458.6V1483.0M902.2 1491.9H926.6M914.4 1479.7V1504.1M923.3 1479.2H947.7M935.5 1467.0V1491.4M918.4 1507.4H942.8M930.6 1495.2V1519.6M751.3 1530.0H775.7M763.5 1517.8V1542.2M759.7 1532.8H784.1M771.9 1520.6V1545.0M777.4 1557.5H801.8M789.6 1545.3V1569.7M787.2 1589.3H811.6M799.4 1577.1V1601.5M764.7 1618.9H789.1M776.9 1606.7V1631.1M895.1 1556.1H919.5M907.3 1543.9V1568.3M927.6 1554.7H952.0M939.8 1542.5V1566.9M906.4 1610.4H930.8M918.6 1598.2V1622.6M914.2 1607.6H938.6M926.4 1595.4V1619.8M975.0 1364.0H999.4M987.2 1351.8V1376.2M1010.2 1354.1H1034.6M1022.4 1341.9V1366.3M1104.8 1345.7H1129.2M1117.0 1333.5V1357.9M975.7 1409.1H1000.1M987.9 1396.9V1421.3M975.7 1414.8H1000.1M987.9 1402.6V1427.0M1020.1 1401.4H1044.5M1032.3 1389.2V1413.6M1011.7 1426.1H1036.1M1023.9 1413.9V1438.3M1045.5 1414.8H1069.9M1057.7 1402.6V1427.0M1035.6 1421.1H1060.0M1047.8 1408.9V1433.3M1065.3 1409.8H1089.7M1077.5 1397.6V1422.0M1082.2 1398.5H1106.6M1094.4 1386.3V1410.7M1058.9 1433.1H1083.3M1071.1 1420.9V1445.3M952.4 1431.7H976.8M964.6 1419.5V1443.9M975.0 1430.0H999.4M987.2 1417.8V1442.2M982.0 1447.5H1006.4M994.2 1435.3V1459.7M993.3 1442.6H1017.7M1005.5 1430.4V1454.8M969.3 1479.2H993.7M981.5 1467.0V1491.4M996.1 1499.0H1020.5M1008.3 1486.8V1511.2M1006.0 1493.3H1030.4M1018.2 1481.1V1505.5M1001.8 1504.6H1026.2M1014.0 1492.4V1516.8M969.3 1508.9H993.7M981.5 1496.7V1521.1M946.8 1532.1H971.2M959.0 1519.9V1544.3M979.2 1554.7H1003.6M991.4 1542.5V1566.9M1037.0 1468.0H1061.4M1049.2 1455.8V1480.2M1055.4 1496.2H1079.8M1067.6 1484.0V1508.4M1077.9 1507.4H1102.3M1090.1 1495.2V1519.6M1042.0 1587.1H1066.4M1054.2 1574.9V1599.3M957.4 1616.8H981.8M969.6 1604.6V1629.0M1030.7 1617.5H1055.1M1042.9 1605.3V1629.7M1111.8 1616.8H1136.2M1124.0 1604.6V1629.0M924.2 1501.8H948.6M936.4 1489.6V1514.0M1172.4 1322.4H1196.8M1184.6 1310.2V1334.6M1139.3 1371.0H1163.7M1151.5 1358.8V1383.2M1159.0 1374.6H1183.4M1171.2 1362.4V1386.8M1148.4 1397.8H1172.8M1160.6 1385.6V1410.0M1149.2 1409.1H1173.6M1161.4 1396.9V1421.3M1172.4 1407.7H1196.8M1184.6 1395.5V1419.9M1120.9 1429.6H1145.3M1133.1 1417.4V1441.8M1145.6 1423.2H1170.0M1157.8 1411.0V1435.4M1158.3 1433.8H1182.7M1170.5 1421.6V1446.0M1190.8 1453.9H1215.2M1203.0 1441.7V1466.1M1144.2 1472.2H1168.6M1156.4 1460.0V1484.4M1127.3 1490.5H1151.7M1139.5 1478.3V1502.7M1130.1 1501.8H1154.5M1142.3 1489.6V1514.0M1171.0 1513.1H1195.4M1183.2 1500.9V1525.3M1185.8 1507.4H1210.2M1198.0 1495.2V1519.6M1127.3 1545.5H1151.7M1139.5 1533.3V1557.7M1136.5 1616.8H1160.9M1148.7 1604.6V1629.0M1183.7 1617.5H1208.1M1195.9 1605.3V1629.7M533.7 1456.5H558.1M545.9 1444.3V1468.7M527.8 1462.0H552.2M540.0 1449.8V1474.2M552.4 1482.4H576.8M564.6 1470.2V1494.6M561.3 1486.8H585.7M573.5 1474.6V1499.0M506.1 1495.7H530.5M518.3 1483.5V1507.9" stroke="#00bfbf" stroke-width="2.2" fill="none"/>
<circle cx="340.3" cy="1006.5" r="7.5" fill="#000"/>
<circle cx="768.8" cy="1047.5" r="7.5" fill="#000"/>
<circle cx="1080.5" cy="1132.0" r="7.5" fill="#000"/>
<circle cx="342.4" cy="1320.5" r="7.5" fill="#000"/>
<circle cx="396.0" cy="1394.6" r="7.5" fill="#000"/>
<circle cx="395.2" cy="1421.4" r="7.5" fill="#000"/>
<circle cx="398.1" cy="1256.3" r="7.5" fill="#000"/>
<circle cx="381.1" cy="1437.6" r="7.5" fill="#000"/>
<circle cx="237.3" cy="1525.1" r="7.5" fill="#000"/>
<circle cx="293.7" cy="1494.8" r="7.5" fill="#000"/>
<circle cx="299.3" cy="1561.7" r="7.5" fill="#000"/>
<circle cx="349.4" cy="1475.7" r="7.5" fill="#000"/>
<circle cx="362.1" cy="1490.5" r="7.5" fill="#000"/>
<circle cx="374.8" cy="1490.5" r="7.5" fill="#000"/>
<circle cx="382.5" cy="1475.0" r="7.5" fill="#000"/>
<circle cx="376.2" cy="1446.1" r="7.5" fill="#000"/>
<circle cx="393.1" cy="1438.3" r="7.5" fill="#000"/>
<circle cx="396.0" cy="1454.6" r="7.5" fill="#000"/>
<circle cx="400.2" cy="1476.4" r="7.5" fill="#000"/>
<circle cx="397.4" cy="1507.4" r="7.5" fill="#000"/>
<circle cx="341.6" cy="1527.2" r="7.5" fill="#000"/>
<circle cx="348.7" cy="1536.4" r="7.5" fill="#000"/>
<circle cx="359.3" cy="1549.8" r="7.5" fill="#000"/>
<circle cx="333.9" cy="1554.0" r="7.5" fill="#000"/>
<circle cx="339.5" cy="1554.7" r="7.5" fill="#000"/>
<circle cx="370.6" cy="1562.5" r="7.5" fill="#000"/>
<circle cx="361.4" cy="1568.1" r="7.5" fill="#000"/>
<circle cx="398.8" cy="1590.7" r="7.5" fill="#000"/>
<circle cx="432.4" cy="1301.2" r="7.5" fill="#000"/>
<circle cx="414.7" cy="1318.2" r="7.5" fill="#000"/>
<circle cx="425.3" cy="1397.1" r="7.5" fill="#000"/>
<circle cx="473.3" cy="1421.8" r="7.5" fill="#000"/>
<circle cx="406.3" cy="1496.2" r="7.5" fill="#000"/>
<circle cx="400.6" cy="1507.4" r="7.5" fill="#000"/>
<circle cx="411.9" cy="1507.4" r="7.5" fill="#000"/>
<circle cx="400.6" cy="1513.1" r="7.5" fill="#000"/>
<circle cx="423.9" cy="1510.3" r="7.5" fill="#000"/>
<circle cx="430.3" cy="1524.4" r="7.5" fill="#000"/>
<circle cx="433.1" cy="1493.3" r="7.5" fill="#000"/>
<circle cx="440.1" cy="1494.8" r="7.5" fill="#000"/>
<circle cx="451.4" cy="1499.0" r="7.5" fill="#000"/>
<circle cx="458.5" cy="1513.1" r="7.5" fill="#000"/>
<circle cx="479.6" cy="1504.6" r="7.5" fill="#000"/>
<circle cx="423.9" cy="1553.3" r="7.5" fill="#000"/>
<circle cx="431.7" cy="1568.8" r="7.5" fill="#000"/>
<circle cx="402.0" cy="1591.4" r="7.5" fill="#000"/>
<circle cx="731.6" cy="1278.0" r="7.5" fill="#000"/>
<circle cx="752.0" cy="1321.7" r="7.5" fill="#000"/>
<circle cx="754.1" cy="1373.9" r="7.5" fill="#000"/>
<circle cx="764.7" cy="1383.7" r="7.5" fill="#000"/>
<circle cx="718.9" cy="1387.3" r="7.5" fill="#000"/>
<circle cx="729.4" cy="1407.7" r="7.5" fill="#000"/>
<circle cx="755.5" cy="1433.1" r="7.5" fill="#000"/>
<circle cx="598.3" cy="1504.6" r="7.5" fill="#000"/>
<circle cx="607.4" cy="1538.5" r="7.5" fill="#000"/>
<circle cx="666.7" cy="1520.1" r="7.5" fill="#000"/>
<circle cx="675.8" cy="1451.0" r="7.5" fill="#000"/>
<circle cx="684.3" cy="1473.6" r="7.5" fill="#000"/>
<circle cx="688.0" cy="1480.0" r="7.5" fill="#000"/>
<circle cx="715.3" cy="1451.0" r="7.5" fill="#000"/>
<circle cx="736.5" cy="1457.4" r="7.5" fill="#000"/>
<circle cx="718.2" cy="1496.2" r="7.5" fill="#000"/>
<circle cx="758.4" cy="1492.6" r="7.5" fill="#000"/>
<circle cx="744.9" cy="1524.4" r="7.5" fill="#000"/>
<circle cx="714.6" cy="1532.8" r="7.5" fill="#000"/>
<circle cx="715.3" cy="1556.1" r="7.5" fill="#000"/>
<circle cx="751.3" cy="1560.3" r="7.5" fill="#000"/>
<circle cx="656.8" cy="1583.6" r="7.5" fill="#000"/>
<circle cx="798.4" cy="1268.1" r="7.5" fill="#000"/>
<circle cx="783.9" cy="1333.0" r="7.5" fill="#000"/>
<circle cx="788.9" cy="1381.6" r="7.5" fill="#000"/>
<circle cx="867.8" cy="1418.3" r="7.5" fill="#000"/>
<circle cx="776.2" cy="1423.9" r="7.5" fill="#000"/>
<circle cx="942.6" cy="1433.1" r="7.5" fill="#000"/>
<circle cx="811.4" cy="1459.5" r="7.5" fill="#000"/>
<circle cx="780.4" cy="1470.1" r="7.5" fill="#000"/>
<circle cx="799.4" cy="1474.3" r="7.5" fill="#000"/>
<circle cx="772.6" cy="1483.5" r="7.5" fill="#000"/>
<circle cx="781.1" cy="1494.8" r="7.5" fill="#000"/>
<circle cx="804.4" cy="1489.1" r="7.5" fill="#000"/>
<circle cx="927.1" cy="1474.3" r="7.5" fill="#000"/>
<circle cx="925.7" cy="1484.9" r="7.5" fill="#000"/>
<circle cx="916.5" cy="1491.2" r="7.5" fill="#000"/>
<circle cx="936.2" cy="1563.9" r="7.5" fill="#000"/>
<circle cx="978.0" cy="1400.0" r="7.5" fill="#000"/>
<circle cx="975.2" cy="1426.1" r="7.5" fill="#000"/>
<circle cx="1004.1" cy="1421.8" r="7.5" fill="#000"/>
<circle cx="1020.3" cy="1413.4" r="7.5" fill="#000"/>
<circle cx="1107.1" cy="1424.6" r="7.5" fill="#000"/>
<circle cx="995.6" cy="1470.8" r="7.5" fill="#000"/>
<circle cx="1041.5" cy="1486.3" r="7.5" fill="#000"/>
<circle cx="1045.0" cy="1497.6" r="7.5" fill="#000"/>
<circle cx="1064.1" cy="1484.9" r="7.5" fill="#000"/>
<circle cx="1078.2" cy="1489.1" r="7.5" fill="#000"/>
<circle cx="1116.2" cy="1458.1" r="7.5" fill="#000"/>
<circle cx="1115.5" cy="1497.6" r="7.5" fill="#000"/>
<circle cx="1117.0" cy="1510.3" r="7.5" fill="#000"/>
<circle cx="1105.7" cy="1521.6" r="7.5" fill="#000"/>
<circle cx="1115.5" cy="1527.2" r="7.5" fill="#000"/>
<circle cx="1088.7" cy="1543.4" r="7.5" fill="#000"/>
<circle cx="1099.3" cy="1578.7" r="7.5" fill="#000"/>
<circle cx="1054.2" cy="1580.8" r="7.5" fill="#000"/>
<circle cx="1155.0" cy="1490.5" r="7.5" fill="#000"/>
<circle cx="1165.6" cy="1484.9" r="7.5" fill="#000"/>
<circle cx="1157.1" cy="1504.6" r="7.5" fill="#000"/>
<circle cx="1168.4" cy="1524.4" r="7.5" fill="#000"/>
<circle cx="1142.3" cy="1530.0" r="7.5" fill="#000"/>
<circle cx="1171.9" cy="1548.4" r="7.5" fill="#000"/>
<circle cx="1169.1" cy="1563.9" r="7.5" fill="#000"/>
<circle cx="1187.4" cy="1563.2" r="7.5" fill="#000"/>
<circle cx="1200.1" cy="1566.0" r="7.5" fill="#000"/>
<circle cx="1184.6" cy="1555.4" r="7.5" fill="#000"/>
<circle cx="1152.2" cy="1576.6" r="7.5" fill="#000"/>
<circle cx="1177.6" cy="1585.0" r="7.5" fill="#000"/>
<circle cx="1221.3" cy="1594.9" r="7.5" fill="#000"/>
<circle cx="1242.5" cy="1595.6" r="7.5" fill="#000"/>
<circle cx="1252.3" cy="1615.4" r="7.5" fill="#000"/>
</g>
<g clip-path="url(#clip_bot)"><polyline points="237.3,1525.1 258.4,1525.1 278.9,1503.9 300.0,1513.1 324.0,1501.8 345.2,1484.9 355.0,1483.5 380.4,1479.2 404.9,1475.0 428.9,1487.7 448.6,1482.8 474.0,1499.0 490.9,1501.8 512.1,1483.5 534.6,1475.7 554.4,1518.7 575.5,1520.8 598.3,1541.3 620.1,1506.0 662.4,1506.0 706.2,1453.9 723.1,1445.4 749.9,1436.9 769.1,1436.9 787.4,1425.6 811.4,1425.3 831.9,1422.8 874.9,1479.2 896.0,1476.4 915.8,1446.1 945.0,1448.2 959.0,1445.4 981.5,1462.3 995.6,1469.4 1022.4,1444.7 1045.0,1466.5 1066.2,1473.6 1084.5,1484.9 1108.5,1515.9 1125.4,1521.6 1142.3,1530.0 1152.2,1532.8 1170.5,1532.8 1193.1,1551.2 1215.7,1552.6 1238.2,1575.2" fill="none" stroke="#000" stroke-width="7.5" stroke-linejoin="round" stroke-linecap="butt"/></g>
<rect x="214.0" y="911.1" width="1063.3" height="713.5" fill="none" stroke="#000" stroke-width="1.9"/>
<path d="M213.0 732.30H239.0M213.0 589.56H239.0M213.0 446.82H239.0M213.0 304.08H239.0M213.0 161.34H239.0M213.0 18.60H239.0M213.0 703.75H226.5M213.0 675.20H226.5M213.0 646.66H226.5M213.0 618.11H226.5M213.0 561.01H226.5M213.0 532.46H226.5M213.0 503.92H226.5M213.0 475.37H226.5M213.0 418.27H226.5M213.0 389.72H226.5M213.0 361.18H226.5M213.0 332.63H226.5M213.0 275.53H226.5M213.0 246.98H226.5M213.0 218.44H226.5M213.0 189.89H226.5M213.0 132.79H226.5M213.0 104.24H226.5M213.0 75.70H226.5M213.0 47.15H226.5M213.0 1624.60H239.0M213.0 1481.90H239.0M213.0 1339.20H239.0M213.0 1196.50H239.0M213.0 1053.80H239.0M213.0 911.10H239.0M213.0 1596.06H226.5M213.0 1567.52H226.5M213.0 1538.98H226.5M213.0 1510.44H226.5M213.0 1453.36H226.5M213.0 1424.82H226.5M213.0 1396.28H226.5M213.0 1367.74H226.5M213.0 1310.66H226.5M213.0 1282.12H226.5M213.0 1253.58H226.5M213.0 1225.04H226.5M213.0 1167.96H226.5M213.0 1139.42H226.5M213.0 1110.88H226.5M213.0 1082.34H226.5M213.0 1025.26H226.5M213.0 996.72H226.5M213.0 968.18H226.5M213.0 939.64H226.5M264.63 733.3V707.3M467.17 733.3V707.3M669.70 733.3V707.3M872.23 733.3V707.3M1074.77 733.3V707.3M1277.30 733.3V707.3M315.27 733.3V719.8M365.90 733.3V719.8M416.53 733.3V719.8M517.80 733.3V719.8M568.43 733.3V719.8M619.07 733.3V719.8M720.33 733.3V719.8M770.97 733.3V719.8M821.60 733.3V719.8M922.87 733.3V719.8M973.50 733.3V719.8M1024.13 733.3V719.8M1125.40 733.3V719.8M1176.03 733.3V719.8M1226.67 733.3V719.8M214.00 1625.6V1599.6M479.82 1625.6V1599.6M745.65 1625.6V1599.6M1011.48 1625.6V1599.6M1277.30 1625.6V1599.6M280.46 1625.6V1612.1M346.91 1625.6V1612.1M413.37 1625.6V1612.1M546.28 1625.6V1612.1M612.74 1625.6V1612.1M679.19 1625.6V1612.1M812.11 1625.6V1612.1M878.56 1625.6V1612.1M945.02 1625.6V1612.1M1077.93 1625.6V1612.1M1144.39 1625.6V1612.1M1210.84 1625.6V1612.1" stroke="#000" stroke-width="4.6" fill="none"/>
<rect x="233.7" y="38.3" width="501.7" height="181.4" rx="7" ry="7" fill="#fff" fill-opacity="0.8" stroke="#cccccc" stroke-opacity="0.8" stroke-width="2.2"/>
<path d="M273.90000000000003 56.3L298.3 80.7M273.90000000000003 80.7L298.3 56.3" stroke="#0000ff" stroke-width="2.5"/>
<path d="M273.90000000000003 125.9H298.3M286.1 113.7V138.1" stroke="#00bfbf" stroke-width="2.2"/>
<circle cx="286.6" cy="183.6" r="7.5" fill="#000"/>
<text transform="translate(125.71,751.60) scale(0.6226,0.5700)" font-size="100">0.0</text>
<text transform="translate(125.71,608.86) scale(0.6226,0.5700)" font-size="100">0.1</text>
<text transform="translate(125.71,466.12) scale(0.6226,0.5700)" font-size="100">0.2</text>
<text transform="translate(125.71,323.38) scale(0.6226,0.5700)" font-size="100">0.3</text>
<text transform="translate(125.71,180.64) scale(0.6226,0.5700)" font-size="100">0.4</text>
<text transform="translate(125.71,37.90) scale(0.6226,0.5700)" font-size="100">0.5</text>
<text transform="translate(125.71,1643.90) scale(0.6226,0.5700)" font-size="100">0.0</text>
<text transform="translate(125.71,1501.20) scale(0.6226,0.5700)" font-size="100">0.1</text>
<text transform="translate(125.71,1358.50) scale(0.6226,0.5700)" font-size="100">0.2</text>
<text transform="translate(125.71,1215.80) scale(0.6226,0.5700)" font-size="100">0.3</text>
<text transform="translate(125.71,1073.10) scale(0.6226,0.5700)" font-size="100">0.4</text>
<text transform="translate(125.71,930.40) scale(0.6226,0.5700)" font-size="100">0.5</text>
<text transform="translate(263.93,780.90) scale(0.6340,0.5740)" font-size="100" text-anchor="middle">60</text>
<text transform="translate(466.47,780.90) scale(0.6340,0.5740)" font-size="100" text-anchor="middle">80</text>
<text transform="translate(669.00,780.90) scale(0.6340,0.5740)" font-size="100" text-anchor="middle">100</text>
<text transform="translate(871.53,780.90) scale(0.6340,0.5740)" font-size="100" text-anchor="middle">120</text>
<text transform="translate(1074.07,780.90) scale(0.6340,0.5740)" font-size="100" text-anchor="middle">140</text>
<text transform="translate(1276.60,780.90) scale(0.6340,0.5740)" font-size="100" text-anchor="middle">160</text>
<text transform="translate(213.50,1687.40) scale(0.6340,0.5630)" font-size="100" text-anchor="middle">06:00</text>
<text transform="translate(479.32,1687.40) scale(0.6340,0.5630)" font-size="100" text-anchor="middle">09:00</text>
<text transform="translate(745.15,1687.40) scale(0.6340,0.5630)" font-size="100" text-anchor="middle">12:00</text>
<text transform="translate(1010.98,1687.40) scale(0.6340,0.5630)" font-size="100" text-anchor="middle">15:00</text>
<text transform="translate(1276.80,1687.40) scale(0.6340,0.5630)" font-size="100" text-anchor="middle">18:00</text>
<text transform="translate(486.32,849.00) scale(0.8119,0.7090)" font-size="100">S</text>
<text transform="translate(529.45,849.00) scale(0.7881,0.7090)" font-size="100">o</text>
<text transform="translate(569.27,849.00) scale(0.7810,0.7090)" font-size="100">l</text>
<text transform="translate(588.84,849.00) scale(0.8047,0.7090)" font-size="100">a</text>
<text transform="translate(628.49,849.00) scale(0.8743,0.7090)" font-size="100">r</text>
<text transform="translate(677.05,849.00) scale(0.7723,0.7090)" font-size="100">L</text>
<text transform="translate(718.85,849.00) scale(0.7881,0.7090)" font-size="100">o</text>
<text transform="translate(758.00,849.00) scale(0.8418,0.7090)" font-size="100">n</text>
<text transform="translate(796.93,849.00) scale(0.8162,0.7090)" font-size="100">g</text>
<text transform="translate(839.87,849.00) scale(0.7414,0.7090)" font-size="100">i</text>
<text transform="translate(859.46,849.00) scale(0.8098,0.7090)" font-size="100">t</text>
<text transform="translate(881.95,849.00) scale(0.8326,0.7090)" font-size="100">u</text>
<text transform="translate(921.88,849.00) scale(0.8515,0.7090)" font-size="100">d</text>
<text transform="translate(965.85,849.00) scale(0.8533,0.7090)" font-size="100">e</text>
<text transform="translate(665.06,1756.70) scale(0.7135,0.7000)" font-size="100">L</text>
<text transform="translate(699.12,1756.70) scale(0.7124,0.7000)" font-size="100">T</text>
<text transform="translate(742.14,1756.70) scale(0.7416,0.7000)" font-size="100">S</text>
<text transform="translate(784.76,1756.70) scale(0.7177,0.7000)" font-size="100">T</text>
<text transform="translate(49.70,1276.13) rotate(-90) scale(0.7144,0.7170)" font-size="100">W</text>
<text transform="translate(49.70,1212.33) rotate(-90) scale(0.7735,0.7170)" font-size="100">a</text>
<text transform="translate(49.70,1176.50) rotate(-90) scale(0.7645,0.7170)" font-size="100">t</text>
<text transform="translate(49.70,1150.63) rotate(-90) scale(0.7947,0.7170)" font-size="100">e</text>
<text transform="translate(49.70,1112.10) rotate(-90) scale(0.8149,0.7170)" font-size="100">r</text>
<text transform="translate(49.70,1063.96) rotate(-90) scale(0.7356,0.7170)" font-size="100">I</text>
<text transform="translate(49.70,1039.71) rotate(-90) scale(0.7204,0.7170)" font-size="100">c</text>
<text transform="translate(49.70,1003.64) rotate(-90) scale(0.8353,0.7170)" font-size="100">e</text>
<text transform="translate(49.70,945.84) rotate(-90) scale(0.7275,0.7170)" font-size="100">O</text>
<text transform="translate(49.70,893.45) rotate(-90) scale(0.7980,0.7170)" font-size="100">p</text>
<text transform="translate(49.70,851.66) rotate(-90) scale(0.7933,0.7170)" font-size="100">t</text>
<text transform="translate(49.70,826.14) rotate(-90) scale(0.6674,0.7170)" font-size="100">i</text>
<text transform="translate(49.70,807.13) rotate(-90) scale(0.7326,0.7170)" font-size="100">c</text>
<text transform="translate(49.70,770.22) rotate(-90) scale(0.7414,0.7170)" font-size="100">a</text>
<text transform="translate(49.70,735.48) rotate(-90) scale(0.7632,0.7170)" font-size="100">l</text>
<text transform="translate(49.70,693.25) rotate(-90) scale(0.7099,0.7170)" font-size="100">D</text>
<text transform="translate(49.70,641.73) rotate(-90) scale(0.7745,0.7170)" font-size="100">e</text>
<text transform="translate(49.70,605.04) rotate(-90) scale(0.7640,0.7170)" font-size="100">p</text>
<text transform="translate(49.70,562.75) rotate(-90) scale(0.8106,0.7170)" font-size="100">t</text>
<text transform="translate(49.70,537.38) rotate(-90) scale(0.7590,0.7170)" font-size="100">h</text>
<text transform="translate(356.38,84.20) scale(0.4395,0.4230)" font-size="100">EXI; SHM</text>
<text transform="translate(356.21,140.40) scale(0.4303,0.4230)" font-size="100">EXI; ZM</text>
<text transform="translate(356.19,196.60) scale(0.4380,0.4230)" font-size="100">MY 36 (MSL; ACB)</text>
</svg></body></html>
